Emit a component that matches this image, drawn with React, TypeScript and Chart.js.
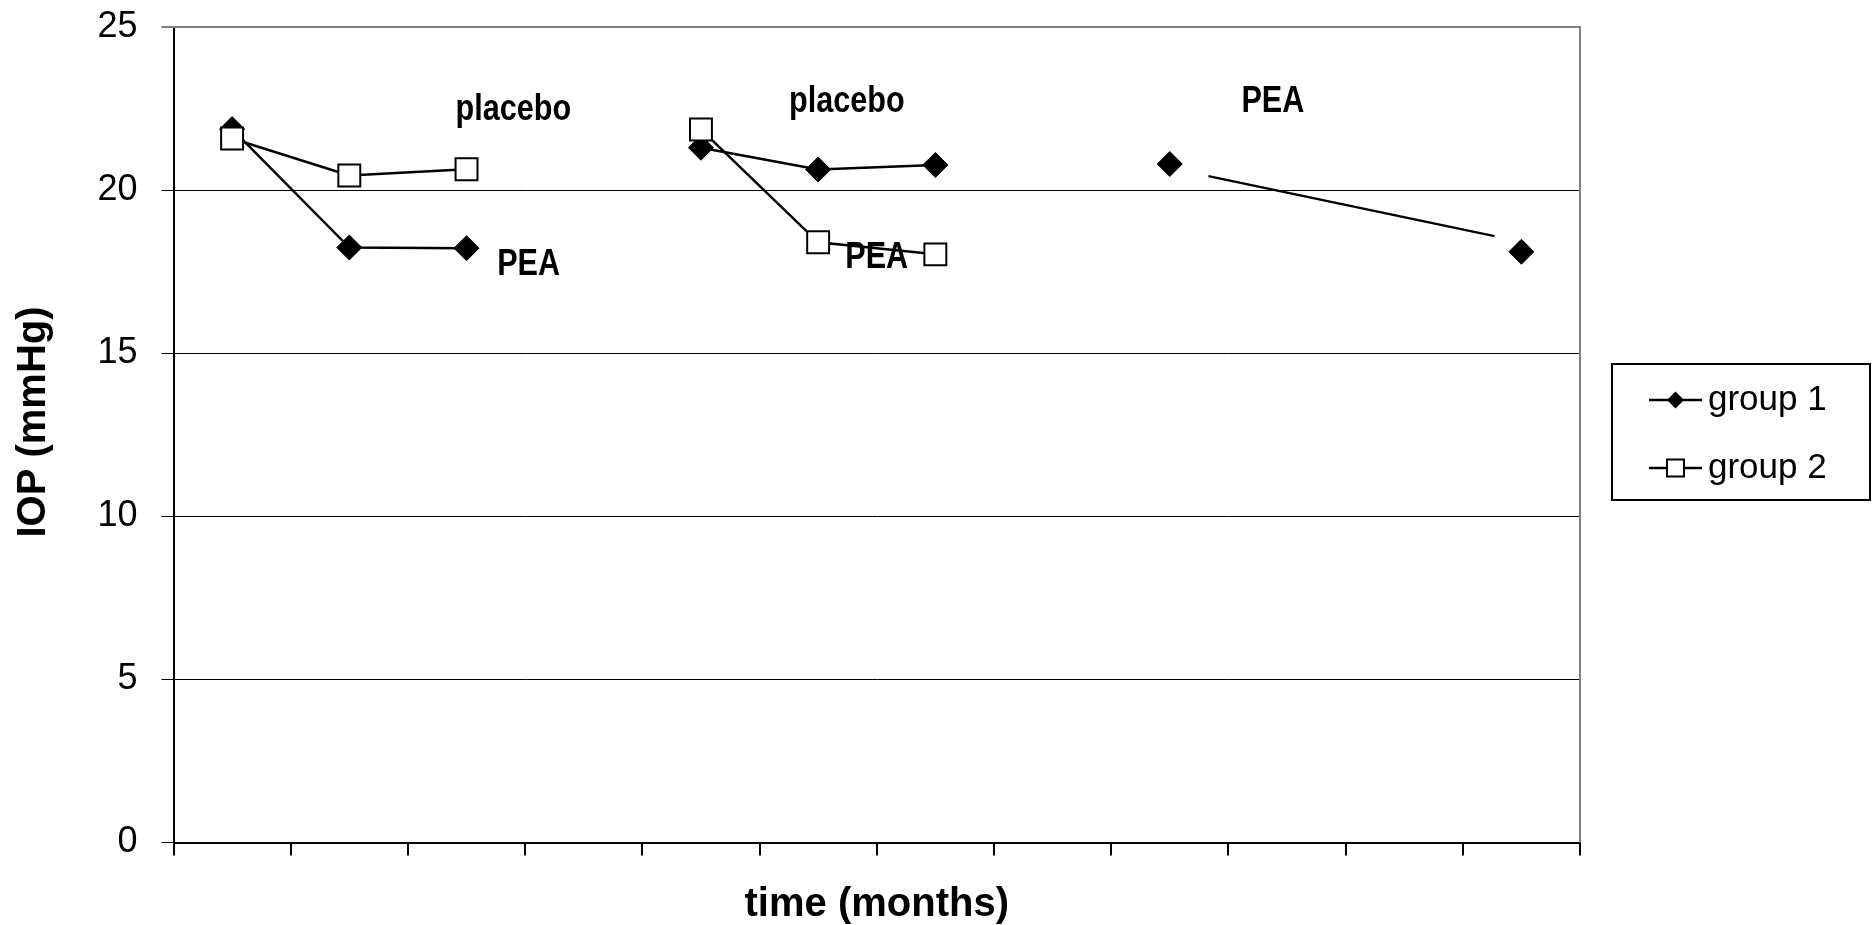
import React, { useEffect, useRef } from 'react';
import { Chart, registerables } from 'chart.js';

Chart.register(...registerables);

// ---- data ----
const categories = ['1', '2', '3', '4', '5', '6', '7', '8', '9', '10', '11', '12'];
const group1 = [21.87, 18.24, 18.22, null, 21.3, 20.63, 20.77, null, 20.8, null, null, 18.11];
const group2 = [21.58, 20.45, 20.64, null, 21.86, 18.4, 18.03, null, null, null, null, null];
const seriesNames = ['group 1', 'group 2'];
const yTickMin = 0;
const yTickMax = 25;
const yTickStep = 5;
// free-standing connector drawn between group 1's last two points (x as category index, y in mmHg)
const connectorX = [8.33, 10.77];
const connectorY = [20.43, 18.59];
// text annotations (x as category index, y in mmHg = text baseline)
const annotationText = ['placebo', 'PEA', 'placebo', 'PEA', 'PEA'];
const annotationX = [2.4, 2.53, 5.245, 5.5, 8.88];
const annotationY = [22.15, 17.4, 22.4, 17.61, 22.4];
const xTitle = 'time (months)';
const yTitle = 'IOP (mmHg)';

const FONT = "'Liberation Sans', Arial, Helvetica, sans-serif";

function drawDiamond(ctx: CanvasRenderingContext2D, x: number, y: number, r: number) {
  ctx.beginPath();
  ctx.moveTo(x - r, y);
  ctx.lineTo(x, y - r);
  ctx.lineTo(x + r, y);
  ctx.lineTo(x, y + r);
  ctx.closePath();
  ctx.fillStyle = '#000';
  ctx.fill();
}

function drawSquare(ctx: CanvasRenderingContext2D, x: number, y: number, h: number) {
  ctx.fillStyle = '#fff';
  ctx.fillRect(x - h, y - h, 2 * h, 2 * h);
  ctx.lineWidth = 2;
  ctx.strokeStyle = '#000';
  ctx.strokeRect(x - h, y - h, 2 * h, 2 * h);
}

const extrasPlugin = {
  id: 'extras',
  beforeDatasetsDraw(chart: any) {
    const { ctx, chartArea, scales } = chart;
    ctx.save();
    // grey frame top & right
    ctx.strokeStyle = '#808080';
    ctx.lineWidth = 2;
    ctx.beginPath();
    ctx.moveTo(chartArea.left - 12, chartArea.top);
    ctx.lineTo(chartArea.right, chartArea.top);
    ctx.lineTo(chartArea.right, chartArea.bottom);
    ctx.stroke();
    // connector line
    const x0 = scales.x.getPixelForValue(connectorX[0]);
    const x1 = scales.x.getPixelForValue(connectorX[1]);
    const y0 = scales.y.getPixelForValue(connectorY[0]);
    const y1 = scales.y.getPixelForValue(connectorY[1]);
    ctx.strokeStyle = '#000';
    ctx.lineWidth = 2.2;
    ctx.beginPath();
    ctx.moveTo(x0, y0);
    ctx.lineTo(x1, y1);
    ctx.stroke();
    ctx.restore();
  },
  afterDatasetsDraw(chart: any) {
    const { ctx, scales } = chart;
    ctx.save();
    ctx.fillStyle = '#000';
    ctx.font = `bold 36px ${FONT}`;
    ctx.textAlign = 'center';
    ctx.textBaseline = 'alphabetic';
    for (let i = 0; i < annotationText.length; i++) {
      const x = scales.x.getPixelForValue(annotationX[i]);
      const y = scales.y.getPixelForValue(annotationY[i]);
      ctx.save();
      ctx.translate(x, y);
      ctx.scale(0.85, 1);
      ctx.fillText(annotationText[i], 0, 0);
      ctx.restore();
    }
    ctx.restore();
  },
  afterDraw(chart: any) {
    const { ctx, chartArea } = chart;
    ctx.save();
    // y axis title
    ctx.fillStyle = '#000';
    ctx.font = `bold 40px ${FONT}`;
    ctx.textAlign = 'center';
    ctx.textBaseline = 'middle';
    ctx.save();
    ctx.translate(33.5, 422);
    ctx.rotate(-Math.PI / 2);
    ctx.fillText(yTitle, 0, 0);
    ctx.restore();

    // legend
    const boxL = chartArea.right + 32;
    const boxT = 364;
    const boxW = 258;
    const boxH = 136;
    ctx.strokeStyle = '#000';
    ctx.lineWidth = 2;
    ctx.strokeRect(boxL, boxT, boxW, boxH);
    const rows = [400, 468];
    ctx.font = `35px ${FONT}`;
    ctx.textAlign = 'left';
    ctx.textBaseline = 'middle';
    for (let i = 0; i < seriesNames.length; i++) {
      const y = rows[i];
      const lx0 = boxL + 37;
      const lx1 = boxL + 90;
      const cx = (lx0 + lx1) / 2;
      ctx.strokeStyle = '#000';
      ctx.lineWidth = 2.5;
      ctx.beginPath();
      ctx.moveTo(lx0, y);
      ctx.lineTo(lx1, y);
      ctx.stroke();
      if (i === 0) drawDiamond(ctx, cx, y, 8.5);
      else drawSquare(ctx, cx, y, 8.5);
      ctx.fillStyle = '#000';
      ctx.fillText(seriesNames[i], boxL + 96, y);
    }
    ctx.restore();
  },
};

export default function App() {
  const canvasRef = useRef<HTMLCanvasElement | null>(null);

  useEffect(() => {
    if (!canvasRef.current) return;
    const chart = new Chart(canvasRef.current, {
      type: 'line',
      data: {
        labels: categories,
        datasets: [
          {
            label: seriesNames[0],
            data: group1,
            order: 1,
            borderColor: '#000',
            borderWidth: 2.5,
            backgroundColor: '#000',
            pointStyle: 'rectRot',
            pointRadius: 12.5,
            pointBorderWidth: 1,
            pointBorderColor: '#000',
            pointBackgroundColor: '#000',
            tension: 0,
            spanGaps: false,
          },
          {
            label: seriesNames[1],
            data: group2,
            order: 0,
            borderColor: '#000',
            borderWidth: 2.5,
            backgroundColor: '#fff',
            pointStyle: 'rect',
            pointRadius: 15.5,
            pointBorderWidth: 2,
            pointBorderColor: '#000',
            pointBackgroundColor: '#fff',
            tension: 0,
            spanGaps: false,
          },
        ],
      },
      options: {
        animation: false,
        responsive: true,
        maintainAspectRatio: false,
        events: [],
        layout: { padding: { top: 27, right: 292, left: 0, bottom: 0 } },
        plugins: {
          legend: { display: false },
          tooltip: { enabled: false },
        },
        scales: {
          x: {
            type: 'category',
            offset: true,
            grid: {
              offset: true,
              drawOnChartArea: false,
              drawTicks: true,
              tickLength: 13,
              color: '#000',
              lineWidth: 2,
            },
            border: { display: true, color: '#000', width: 2 },
            ticks: { display: false },
            title: {
              display: true,
              text: xTitle,
              color: '#000',
              font: { family: FONT, size: 40, weight: 'bold', lineHeight: 1 },
              padding: { top: 0, bottom: 0 },
            },
            afterFit(scale: any) {
              scale.height = 82.5;
              scale.paddingLeft = 0;
              scale.paddingRight = 0;
            },
          },
          y: {
            min: yTickMin,
            max: yTickMax,
            ticks: {
              stepSize: yTickStep,
              color: '#000',
              padding: 24,
              font: { family: FONT, size: 36 },
            },
            grid: {
              color: '#000',
              lineWidth: 1,
              tickLength: 12,
              tickColor: '#000',
            },
            border: { display: true, color: '#000', width: 2 },
            title: { display: false },
            afterFit(scale: any) {
              scale.width = 173.5;
              scale.paddingTop = 0;
              scale.paddingBottom = 0;
            },
          },
        },
      },
      plugins: [extrasPlugin],
    } as any);
    return () => chart.destroy();
  }, []);

  return (
    <div style={{ position: 'fixed', left: 0, top: 0, width: '1872px', height: '925px', background: '#fff' }}>
      <canvas ref={canvasRef} />
    </div>
  );
}
